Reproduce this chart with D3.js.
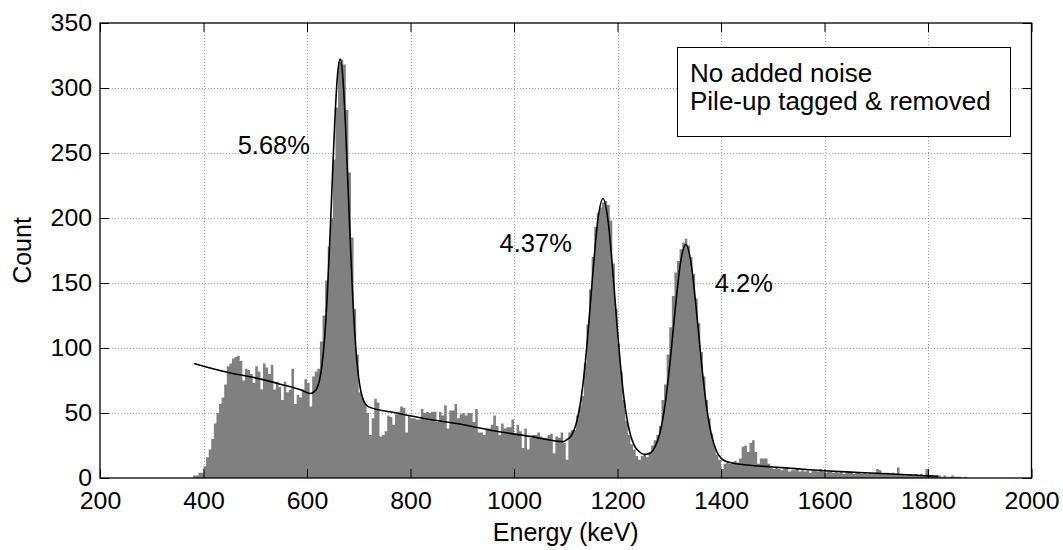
<!DOCTYPE html>
<html>
<head>
<meta charset="utf-8">
<script src="https://cdn.jsdelivr.net/npm/d3@7"></script>
<style>
  body { margin: 0; background: #fff; }
  text { font-family: "Liberation Sans", Arial, Helvetica, sans-serif; fill: #000; }
</style>
</head>
<body>
<svg id="chart" width="1063" height="550"></svg>
<script>
// histogram: 5 keV bins starting at 380 keV
const binStart = 380;
const binWidth = 5;
const counts = [
  2, 2, 4, 4, 9, 16, 22, 30, 42, 50, 57, 62, 72, 86, 88, 92, 93, 94, 90, 75,
  84, 83, 80, 73, 86, 82, 68, 88, 85, 80, 87, 68, 74, 70, 60, 74, 66, 68, 84, 57,
  64, 62, 68, 76, 73, 55, 78, 82, 84, 105, 125, 152, 178, 200, 245, 285, 320, 322, 318, 283,
  235, 185, 130, 95, 66, 62, 57, 50, 33, 46, 61, 58, 32, 33, 36, 48, 47, 41, 49, 51,
  55, 54, 35, 48, 46, 46, 45, 45, 53, 50, 51, 50, 51, 51, 43, 51, 48, 56, 38, 52,
  52, 57, 46, 49, 50, 48, 50, 50, 43, 53, 35, 35, 33, 38, 38, 41, 48, 40, 33, 42,
  38, 39, 39, 45, 33, 41, 36, 23, 38, 22, 31, 33, 33, 35, 32, 31, 31, 33, 34, 19,
  32, 31, 35, 27, 14, 35, 37, 37, 48, 55, 63, 88, 118, 145, 170, 193, 204, 208, 212, 213,
  210, 198, 165, 130, 103, 82, 60, 44, 33, 26, 22, 17, 14, 17, 19, 16, 20, 25, 29, 33,
  40, 60, 72, 95, 116, 140, 158, 167, 176, 181, 184, 179, 170, 157, 138, 119, 97, 78, 60, 46,
  34, 25, 18, 14, 7, 11, 12, 11, 12, 13, 12, 15, 24, 25, 20, 27, 29, 20, 11, 15,
  15, 15, 11, 8, 7, 8, 7, 6, 7, 7, 5, 6, 6, 7, 5, 6, 5, 6, 4, 6,
  6, 5, 7, 5, 4, 5, 5, 4, 5, 4, 5, 3, 4, 5, 4, 3, 4, 4, 3, 4,
  3, 4, 3, 4, 7, 6, 3, 4, 4, 3, 4, 3, 8, 3, 3, 2, 3, 3, 2, 3,
  2, 3, 2, 7, 2, 2, 1, 2, 2, 1, 2, 1, 1, 2, 1, 1, 1, 0, 1, 0
];

// fitted curve (background + three gaussian peaks)
const fitEnergy = [
  382, 400, 450, 500, 550, 590, 606,
  614, 619, 624, 629, 634, 639, 644, 649, 654, 659, 664, 669, 674, 679, 684, 689, 694, 699, 704, 709, 714, 719,
  773, 838, 902, 966, 1031, 1095,
  1102, 1112, 1122, 1132, 1142, 1152, 1162, 1172, 1182, 1192, 1202, 1212, 1222, 1232, 1242, 1252,
  1262, 1272, 1282, 1292, 1302, 1312, 1322, 1332, 1342, 1352, 1362, 1372, 1382, 1392, 1402, 1412,
  1450, 1500, 1550, 1600, 1650, 1700, 1750, 1800, 1820
];
const fitCount = [
  88, 86, 81, 77, 72, 67.5, 65,
  66.5, 69, 75, 87, 107.5, 139.4, 181.8, 230.2, 276.7, 310.2, 322.3, 309.2, 274.7, 227.2, 177.8, 134.4, 101.5, 79.8, 66.8, 59.8, 56.3, 54.7,
  50, 45, 41, 36, 32, 28,
  29.4, 33.3, 44.5, 68, 107, 155.8, 198.3, 215, 197.1, 153.4, 103.4, 63, 38, 25.3, 20.2, 18.1,
  18.9, 23.5, 34.6, 56.6, 90.8, 131.7, 166.1, 179.6, 165.7, 130.9, 89.6, 54.9, 32.4, 20, 14.5, 12.5,
  10, 8.5, 7, 5.6, 4.5, 3.7, 2.7, 1.6, 1.3
];

const xTicks = [200, 400, 600, 800, 1000, 1200, 1400, 1600, 1800, 2000];
const yTicks = [0, 50, 100, 150, 200, 250, 300, 350];
const peakLabels = ['5.68%', '4.37%', '4.2%'];
const legendLines = ['No added noise', 'Pile-up tagged & removed'];

const svg = d3.select('#chart');
const plotL = 100, plotR = 1031.5, plotT = 23, plotB = 478;

const x = d3.scaleLinear().domain([200, 2000]).range([plotL, plotR]);
const y = d3.scaleLinear().domain([0, 350]).range([plotB, plotT]);

// dotted grid
const grid = svg.append('g')
  .attr('stroke', '#a0a0a0')
  .attr('stroke-width', 1)
  .attr('stroke-dasharray', '1,2');
grid.selectAll('line.gx').data(xTicks.slice(1, -1)).enter().append('line')
  .attr('x1', d => Math.round(x(d)) + 0.5).attr('x2', d => Math.round(x(d)) + 0.5)
  .attr('y1', plotT).attr('y2', plotB);
grid.selectAll('line.gy').data(yTicks.slice(1, -1)).enter().append('line')
  .attr('y1', d => Math.round(y(d)) + 0.5).attr('y2', d => Math.round(y(d)) + 0.5)
  .attr('x1', plotL).attr('x2', plotR);

// histogram as one stepped area
const bins = counts.map((c, i) => ({ e: binStart + i * binWidth, c }));
bins.push({ e: binStart + counts.length * binWidth, c: 0 });
const histArea = d3.area()
  .curve(d3.curveStepAfter)
  .x(d => x(d.e))
  .y0(y(0))
  .y1(d => y(d.c));
svg.append('path')
  .datum(bins)
  .attr('d', histArea)
  .attr('fill', '#808080');

// fit curve
const fitLine = d3.line()
  .curve(d3.curveMonotoneX)
  .x(d => x(d[0]))
  .y(d => y(d[1]));
svg.append('path')
  .datum(fitEnergy.map((e, i) => [e, fitCount[i]]))
  .attr('d', fitLine)
  .attr('fill', 'none')
  .attr('stroke', '#000')
  .attr('stroke-width', 1.6);

// axes with inward ticks on all four sides
const tickLen = 9;
const fontTick = 23, stretch = 1.08;
const xAxis = svg.append('g').attr('transform', `translate(0,${plotB})`)
  .call(d3.axisBottom(x).tickValues(xTicks).tickFormat(d3.format('d'))
    .tickSizeInner(-tickLen).tickSizeOuter(0).tickPadding(15));
const yAxis = svg.append('g').attr('transform', `translate(${plotL},0)`)
  .call(d3.axisLeft(y).tickValues(yTicks).tickSizeInner(-tickLen).tickSizeOuter(0).tickPadding(8));
svg.append('g').attr('transform', `translate(0,${plotT})`)
  .call(d3.axisTop(x).tickValues(xTicks).tickFormat('').tickSizeInner(-tickLen).tickSizeOuter(0));
svg.append('g').attr('transform', `translate(${plotR},0)`)
  .call(d3.axisRight(y).tickValues(yTicks).tickFormat('').tickSizeInner(-tickLen).tickSizeOuter(0));

svg.selectAll('.domain').remove();
svg.selectAll('.tick line').attr('stroke', '#000').attr('stroke-width', 1);
xAxis.selectAll('text')
  .attr('font-size', fontTick)
  .attr('transform', `scale(${stretch},1)`);
yAxis.selectAll('text')
  .attr('font-size', fontTick)
  .attr('x', -8 / stretch)
  .attr('transform', `scale(${stretch},1)`);
svg.selectAll('.tick text').style('font-family', '"Liberation Sans", Arial, sans-serif').attr('fill', '#000');

// box
svg.append('rect')
  .attr('x', plotL).attr('y', plotT)
  .attr('width', plotR - plotL).attr('height', plotB - plotT)
  .attr('fill', 'none').attr('stroke', '#000').attr('stroke-width', 1.3);

// axis titles
svg.append('text')
  .attr('x', (plotL + plotR) / 2).attr('y', 541)
  .attr('text-anchor', 'middle').attr('font-size', 25)
  .text('Energy (keV)');
svg.append('text')
  .attr('transform', `translate(31,${(plotT + plotB) / 2}) rotate(-90)`)
  .attr('text-anchor', 'middle').attr('font-size', 25)
  .text('Count');

// resolution labels next to the peaks
const labelPos = [[466, 249], [972, 174], [1388, 143]];
svg.selectAll('text.peak').data(peakLabels).enter().append('text')
  .attr('class', 'peak')
  .attr('x', (d, i) => x(labelPos[i][0]))
  .attr('y', (d, i) => y(labelPos[i][1]))
  .attr('font-size', 25.5)
  .text(d => d);

// legend box
const lg = svg.append('g');
lg.append('rect')
  .attr('x', 677.5).attr('y', 47.5).attr('width', 333).attr('height', 89)
  .attr('fill', '#fff').attr('stroke', '#000').attr('stroke-width', 1);
lg.selectAll('text').data(legendLines).enter().append('text')
  .attr('x', 690).attr('y', (d, i) => 82 + i * 28)
  .attr('font-size', 26)
  .text(d => d);
</script>
</body>
</html>
